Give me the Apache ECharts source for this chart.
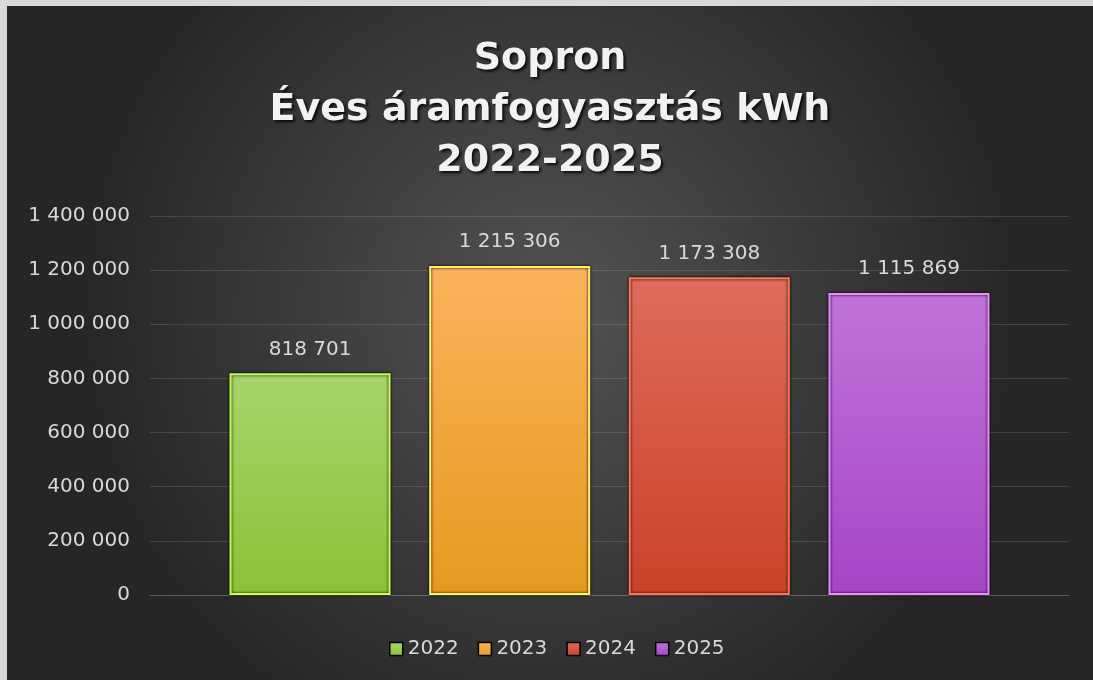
<!DOCTYPE html>
<html>
<head>
<meta charset="utf-8">
<title>Sopron - Éves áramfogyasztás</title>
<script src="https://cdn.jsdelivr.net/npm/echarts@6/dist/echarts.min.js"></script>
<style>
    html, body { margin: 0; padding: 0; background: #d9d9d9; }
    #main { position: absolute; left: 7px; top: 6px; width: 1086px; height: 674px; }
</style>
</head>
<body>
<div id="main"></div>
<script>
// adatok
let years = ['2022', '2023', '2024', '2025']
let consumption = [818701, 1215306, 1173308, 1115869]
let yTicks = [0, 200000, 400000, 600000, 800000, 1000000, 1200000, 1400000]

// oszlop színek: felső, alsó, keret
let topColors = ['#a7d46c', '#fdb35c', '#de6c5c', '#c073da']
let bottomColors = ['#8bc234', '#e59a1e', '#cc4128', '#a744c7']
let edgeColors = ['#c8ff52', '#fff06e', '#ff7552', '#ea8cff']

// szóközös ezres tagolás
function fmt(v) {
    return String(v).replace(/\B(?=(\d{3})+(?!\d))/g, ' ')
}

let font = 'DejaVu Sans'
let myChart = echarts.init(document.getElementById('main'))

let series = years.map(function (y, i) {
    return {
        name: y,
        type: 'bar',
        data: [consumption[i]],
        barWidth: 161,
        barGap: '24%',
        itemStyle: {
            color: {
                type: 'linear', x: 0, y: 0, x2: 0, y2: 1,
                colorStops: [
                    { offset: 0, color: topColors[i] },
                    { offset: 1, color: bottomColors[i] }
                ]
            },
            borderColor: edgeColors[i],
            borderWidth: 2,
            shadowColor: '#000',
            shadowBlur: 3
        },
        label: {
            show: true,
            position: 'top',
            distance: 14,
            color: '#d9d9d9',
            fontFamily: font,
            fontSize: 20,
            formatter: function (p) { return fmt(p.value) }
        }
    }
})

let option = {
    backgroundColor: {
        type: 'radial', x: 0.5, y: 0.45, r: 0.7,
        colorStops: [
            { offset: 0, color: '#535353' },
            { offset: 1, color: '#262626' }
        ]
    },
    animation: false,
    title: {
        text: 'Sopron\nÉves áramfogyasztás kWh\n2022-2025',
        left: 'center',
        top: 23,
        textStyle: {
            color: '#f2f2f2',
            fontFamily: font,
            fontWeight: 'bold',
            fontSize: 38,
            lineHeight: 51,
            align: 'center',
            textShadowColor: 'rgba(0,0,0,0.85)',
            textShadowBlur: 3,
            textShadowOffsetX: 2,
            textShadowOffsetY: 2
        }
    },
    legend: {
        data: years,
        left: 377,
        top: 628,
        itemWidth: 13,
        itemHeight: 13,
        itemGap: 19,
        icon: 'rect',
        itemStyle: { borderColor: '#000', borderWidth: 1.5 },
        textStyle: { color: '#d9d9d9', fontFamily: font, fontSize: 20 }
    },
    grid: { left: 143, right: 24, top: 210, bottom: 85 },
    xAxis: {
        type: 'category',
        data: [''],
        axisLine: { lineStyle: { color: 'rgba(255,255,255,0.15)', width: 1 } },
        axisTick: { show: false },
        axisLabel: { show: false }
    },
    yAxis: {
        type: 'value',
        min: yTicks[0],
        max: yTicks[yTicks.length - 1],
        interval: yTicks[1] - yTicks[0],
        axisLine: { show: false },
        axisTick: { show: false },
        splitLine: { lineStyle: { color: 'rgba(255,255,255,0.13)', width: 1 } },
        axisLabel: {
            color: '#d9d9d9',
            fontFamily: font,
            fontSize: 20,
            margin: 20,
            formatter: function (v) { return fmt(v) }
        }
    },
    series: series
}

myChart.setOption(option)
</script>
</body>
</html>
